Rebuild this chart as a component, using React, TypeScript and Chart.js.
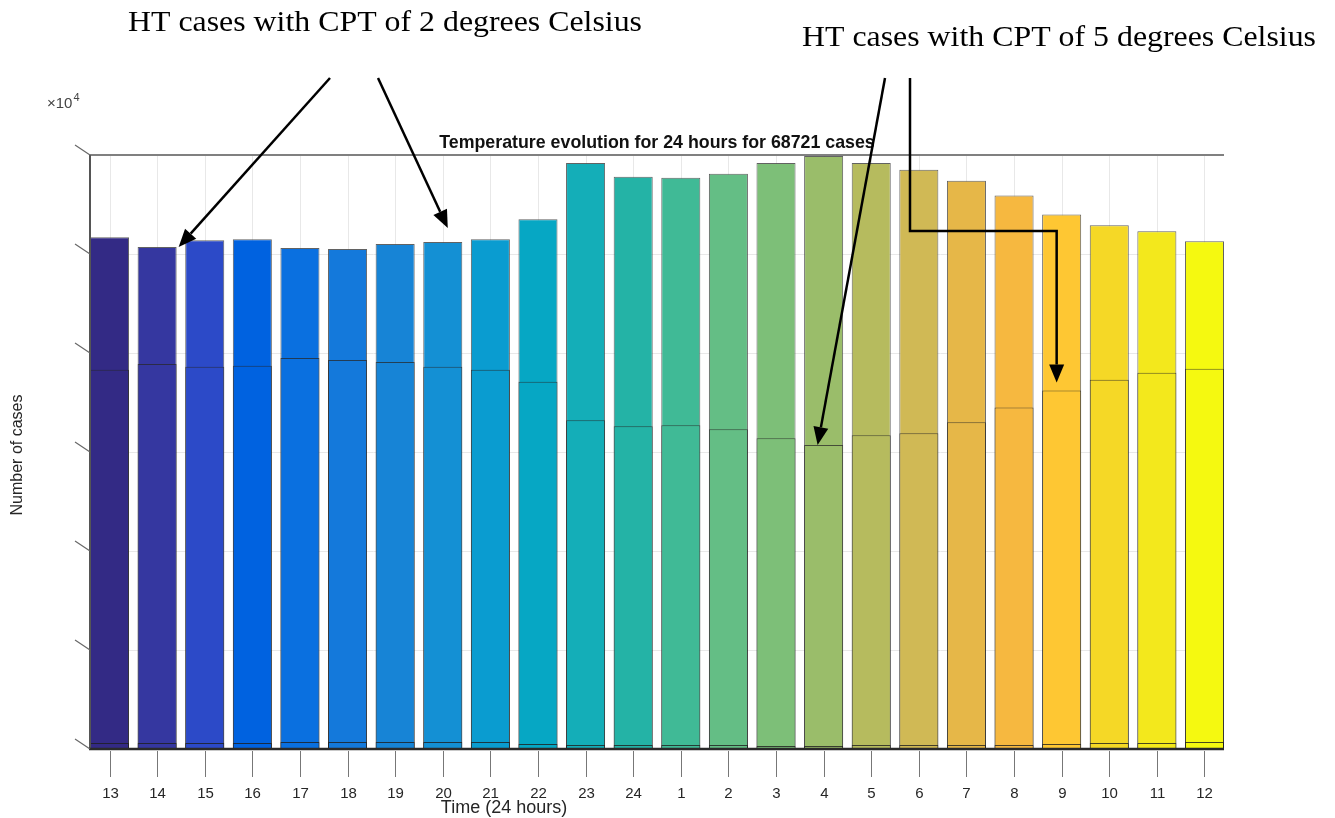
import { useEffect, useRef } from 'react';
import { Chart, registerables } from 'chart.js';

Chart.register(...registerables);

// Hour of day shown under each bar
const hourLabels = ['13', '14', '15', '16', '17', '18', '19', '20', '21', '22', '23', '24', '1', '2', '3', '4', '5', '6', '7', '8', '9', '10', '11', '12'];

// Number of cases (x 10^4)
const cpt2Cases = [5.17, 5.07, 5.14, 5.15, 5.06, 5.05, 5.10, 5.12, 5.15, 5.35, 5.92, 5.78, 5.77, 5.81, 5.92, 5.99, 5.92, 5.85, 5.74, 5.59, 5.40, 5.29, 5.23, 5.13];
const cpt5Cases = [3.83, 3.89, 3.86, 3.87, 3.95, 3.93, 3.91, 3.86, 3.83, 3.71, 3.32, 3.26, 3.27, 3.23, 3.14, 3.07, 3.17, 3.19, 3.30, 3.45, 3.62, 3.73, 3.80, 3.84];
const baseCases = [0.06, 0.06, 0.06, 0.06, 0.07, 0.07, 0.07, 0.07, 0.07, 0.05, 0.04, 0.04, 0.04, 0.04, 0.03, 0.03, 0.04, 0.04, 0.04, 0.04, 0.05, 0.06, 0.06, 0.07];

const barColors = ['#332a85', '#3537a0', '#2c4ac8', '#0062e0', '#0a70e0', '#1479db', '#1784d6', '#1490d4', '#0a9cd0', '#06a7c4', '#14aeb8', '#24b3a6', '#40ba96', '#64be85', '#7dbf78', '#9abd6a', '#b6bb5e', '#d0b955', '#e6b748', '#f6b840', '#fec733', '#f5d826', '#f3e81c', '#f5f910'];

const yTicks = [0, 1, 2, 3, 4, 5, 6];

const chartTitle = 'Temperature evolution for 24 hours for 68721 cases';
const xTitle = 'Time (24 hours)';
const yTitle = 'Number of cases';
const note2 = 'HT cases with CPT of 2 degrees Celsius';
const note5 = 'HT cases with CPT of 5 degrees Celsius';

function drawArrow(ctx: CanvasRenderingContext2D, pts: [number, number][]) {
  ctx.save();
  ctx.strokeStyle = '#000';
  ctx.fillStyle = '#000';
  ctx.lineWidth = 2.5;
  const n = pts.length;
  const [tx, ty] = pts[n - 1];
  const [px, py] = pts[n - 2];
  const ang = Math.atan2(ty - py, tx - px);
  const headLen = 18;
  const headW = 7.5;
  const bx = tx - headLen * Math.cos(ang);
  const by = ty - headLen * Math.sin(ang);
  ctx.beginPath();
  ctx.moveTo(pts[0][0], pts[0][1]);
  for (let i = 1; i < n - 1; i++) ctx.lineTo(pts[i][0], pts[i][1]);
  ctx.lineTo(bx, by);
  ctx.stroke();
  ctx.beginPath();
  ctx.moveTo(tx, ty);
  ctx.lineTo(bx + headW * Math.sin(ang), by - headW * Math.cos(ang));
  ctx.lineTo(bx - headW * Math.sin(ang), by + headW * Math.cos(ang));
  ctx.closePath();
  ctx.fill();
  ctx.restore();
}

function drawStretchedText(ctx: CanvasRenderingContext2D, text: string, x: number, y: number, width: number) {
  ctx.save();
  ctx.font = '30px "Liberation Serif", "Times New Roman", serif';
  ctx.fillStyle = '#000';
  ctx.textAlign = 'left';
  ctx.textBaseline = 'alphabetic';
  const w = ctx.measureText(text).width;
  ctx.translate(x, y);
  ctx.scale(width / w, 1);
  ctx.fillText(text, 0, 0);
  ctx.restore();
}

const decorPlugin = {
  id: 'matlabDecor',
  beforeDatasetsDraw(chart: any) {
    const { ctx, chartArea, scales } = chart;
    const { left, right, top, bottom } = chartArea;
    ctx.save();
    ctx.strokeStyle = '#e8e8e8';
    ctx.lineWidth = 1;
    yTicks.forEach((t) => {
      if (t === 0 || t === yTicks[yTicks.length - 1]) return;
      const y = Math.round(scales.y.getPixelForValue(t)) + 0.5;
      ctx.beginPath();
      ctx.moveTo(left, y);
      ctx.lineTo(right, y);
      ctx.stroke();
    });
    hourLabels.forEach((_, i) => {
      const x = Math.round(scales.x.getPixelForValue(i)) + 0.5;
      ctx.beginPath();
      ctx.moveTo(x, top);
      ctx.lineTo(x, bottom);
      ctx.stroke();
    });
    ctx.restore();
  },
  afterDatasetsDraw(chart: any) {
    const { ctx, chartArea, scales } = chart;
    const { left, right, top, bottom } = chartArea;
    const xs = scales.x;
    const ys = scales.y;
    ctx.save();
    // top box line
    ctx.strokeStyle = '#808080';
    ctx.lineWidth = 2;
    ctx.beginPath();
    ctx.moveTo(left, top);
    ctx.lineTo(right, top);
    ctx.stroke();
    // left axis
    ctx.strokeStyle = '#555';
    ctx.beginPath();
    ctx.moveTo(left, top);
    ctx.lineTo(left, bottom);
    ctx.stroke();
    // bottom axis
    ctx.strokeStyle = '#2a2a2a';
    ctx.lineWidth = 2.5;
    ctx.beginPath();
    ctx.moveTo(left - 1, bottom);
    ctx.lineTo(right, bottom);
    ctx.stroke();
    // slanted y ticks
    ctx.strokeStyle = '#666';
    ctx.lineWidth = 1.2;
    yTicks.forEach((t) => {
      const y = ys.getPixelForValue(t);
      ctx.beginPath();
      ctx.moveTo(left - 15, y - 10);
      ctx.lineTo(left, y);
      ctx.stroke();
    });
    // x ticks + labels
    ctx.strokeStyle = '#777';
    ctx.lineWidth = 1;
    ctx.fillStyle = '#262626';
    ctx.font = '15px "Liberation Sans", Arial, sans-serif';
    ctx.textAlign = 'center';
    ctx.textBaseline = 'middle';
    hourLabels.forEach((lab, i) => {
      const x = Math.round(xs.getPixelForValue(i)) + 0.5;
      ctx.beginPath();
      ctx.moveTo(x, bottom + 2);
      ctx.lineTo(x, bottom + 28);
      ctx.stroke();
      ctx.fillText(lab, x, bottom + 45);
    });
    // x title
    ctx.font = '18px "Liberation Sans", Arial, sans-serif';
    ctx.fillText(xTitle, 504, bottom + 59);
    // y title
    ctx.save();
    ctx.translate(18, (top + bottom) / 2 + 3);
    ctx.rotate(-Math.PI / 2);
    ctx.font = '16px "Liberation Sans", Arial, sans-serif';
    ctx.fillText(yTitle, 0, 0);
    ctx.restore();
    // exponent
    ctx.fillStyle = '#444';
    ctx.textAlign = 'left';
    ctx.textBaseline = 'alphabetic';
    ctx.font = '15px "Liberation Sans", Arial, sans-serif';
    const base = '\u00d710';
    ctx.fillText(base, left - 43, top - 47);
    const bw = ctx.measureText(base).width;
    ctx.font = '11px "Liberation Sans", Arial, sans-serif';
    ctx.fillText('4', left - 43 + bw + 1, top - 54);
    // chart title
    ctx.fillStyle = '#111';
    ctx.textAlign = 'center';
    ctx.font = 'bold 17.8px "Liberation Sans", Arial, sans-serif';
    ctx.fillText(chartTitle, (left + right) / 2, top - 7);
    ctx.restore();

    // annotations
    drawStretchedText(ctx, note2, 128, 31, 514);
    drawStretchedText(ctx, note5, 802, 46, 514);

    const half = (xs.getPixelForValue(1) - xs.getPixelForValue(0)) * 0.41;
    drawArrow(ctx, [[330, 78], [xs.getPixelForValue(1) + half + 2, ys.getPixelForValue(cpt2Cases[1])]]);
    drawArrow(ctx, [[378, 78], [xs.getPixelForValue(7) + 5, ys.getPixelForValue(cpt2Cases[7]) - 14]]);
    drawArrow(ctx, [[885, 78], [xs.getPixelForValue(15) - 6, ys.getPixelForValue(cpt5Cases[15])]]);
    const x9 = xs.getPixelForValue(20) - 5;
    drawArrow(ctx, [[910, 78], [910, 231], [x9, 231], [x9, ys.getPixelForValue(cpt5Cases[20]) - 8]]);
  },
};

export default function App() {
  const ref = useRef<HTMLCanvasElement | null>(null);
  useEffect(() => {
    if (!ref.current) return;
    const common = {
      backgroundColor: barColors,
      grouped: false,
      barPercentage: 0.82,
      categoryPercentage: 1,
      borderSkipped: 'start',
    };
    const chart = new Chart(ref.current, {
      type: 'bar',
      data: {
        datasets: [
          { ...common, label: 'base', data: baseCases.map((v, i) => ({ x: i, y: v })), borderColor: 'rgba(30,30,30,0.8)', borderWidth: 1, order: 0 },
          { ...common, label: 'CPT 5', data: cpt5Cases.map((v, i) => ({ x: i, y: v })), borderColor: 'rgba(40,40,40,0.75)', borderWidth: 1, order: 1 },
          { ...common, label: 'CPT 2', data: cpt2Cases.map((v, i) => ({ x: i, y: v })), borderColor: 'rgba(70,70,70,0.85)', borderWidth: 1, order: 2 },
        ],
      } as any,
      options: {
        responsive: false,
        animation: false,
        layout: { padding: { left: 90, right: 111, top: 155, bottom: 69 } },
        plugins: { legend: { display: false }, tooltip: { enabled: false }, title: { display: false } },
        scales: {
          x: { type: 'linear', min: -0.41, max: 23.41, offset: false, display: false },
          y: { min: 0, max: 6, display: false },
        },
      } as any,
      plugins: [decorPlugin],
    });
    return () => chart.destroy();
  }, []);
  return (
    <div style={{ position: 'absolute', left: 0, top: 0, width: 1335, height: 818, background: '#fff' }}>
      <canvas ref={ref} width={1335} height={818} />
    </div>
  );
}
